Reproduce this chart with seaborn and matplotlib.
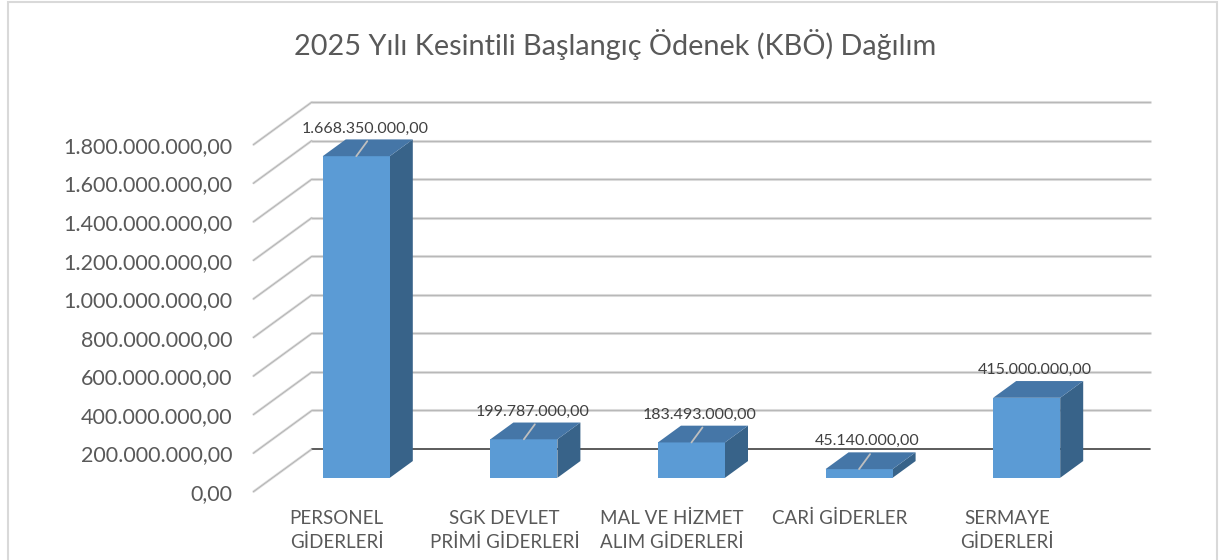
import numpy as np
import pandas as pd
import matplotlib
matplotlib.use("Agg")
import matplotlib.pyplot as plt
import matplotlib.transforms as mtransforms
from matplotlib.patches import Polygon, Rectangle
import seaborn as sns

# ---- data ----
categories = ["PERSONEL\nGİDERLERİ", "SGK DEVLET\nPRİMİ GİDERLERİ", "MAL VE HİZMET\nALIM GİDERLERİ",
              "CARİ GİDERLER", "SERMAYE\nGİDERLERİ"]
values = [1668350000.00, 199787000.00, 183493000.00, 45140000.00, 415000000.00]
yticks = [0, 200e6, 400e6, 600e6, 800e6, 1000e6, 1200e6, 1400e6, 1600e6, 1800e6]
leader = [True, True, True, True, False]
title = "2025 Yılı Kesintili Başlangıç Ödenek (KBÖ) Dağılım"

def tr(v):
    s = f"{v:,.2f}"
    return s.replace(",", "#").replace(".", ",").replace("#", ".")

sns.set_theme(style="white")
plt.rcParams['font.family'] = ['Lato', 'DejaVu Sans']
TXT = '#595959'

W, H = 1219, 560
fig = plt.figure(figsize=(W / 100, H / 100), dpi=100)
# front plane of the 3D box (pixels): x 253..1091, y(top-origin) 492 (0) .. 145 (1.8e9)
ax = fig.add_axes([253 / W, (H - 492) / H, 838 / W, (492 - 145) / H])
ax.patch.set_alpha(0)

DX, DY = 59, 43  # full depth offset in pixels
D0, D1 = 0.33, 0.72  # bar depth range

df = pd.DataFrame({"cat": categories, "val": values})
sns.barplot(data=df, x="cat", y="val", ax=ax, color="#5B9BD5", saturation=1,
            width=0.4, zorder=5)
ax.set_xlim(-0.5, len(categories) - 0.5)
ax.set_ylim(0, yticks[-1])

off = mtransforms.ScaledTranslation(D0 * DX / 100, D0 * DY / 100, fig.dpi_scale_trans)
for p in ax.patches:
    p.set_transform(ax.transData + off)
    p.set_clip_on(False)
    p.set_edgecolor('none')

def P(x, y, d, ex=0, ey=0):
    disp = ax.transData.transform((x, y)) + np.array([d * DX + ex, d * DY + ey])
    return ax.transData.inverted().transform(disp)

x0, x1 = -0.5, len(categories) - 0.5
# side wall diagonals and back wall gridlines
for t in yticks:
    a, b = P(x0, t, 0), P(x0, t, 1)
    ax.plot([a[0], b[0]], [a[1], b[1]], color='#D9D9D9', lw=1.8, zorder=1, clip_on=False, solid_capstyle='butt')
    ax.plot([a[0], b[0]], [a[1], b[1]], color='#B0B0B0', lw=0.6, zorder=1.1, clip_on=False)
    c = P(x1, t, 1)
    if t == 0:
        ax.plot([b[0], c[0]], [b[1], c[1]], color='#404040', lw=1.2, zorder=1, clip_on=False)
    else:
        ax.plot([b[0], c[0]], [b[1], c[1]], color='#DEDEDE', lw=2.2, zorder=1, clip_on=False)
        ax.plot([b[0], c[0]], [b[1], c[1]], color='#B8B8B8', lw=0.8, zorder=1.1, clip_on=False)

# 3D faces
hw = 0.2
for i, v in enumerate(values):
    xa, xb = i - hw, i + hw
    top = [P(xa, v, D0), P(xb, v, D0), P(xb, v, D1), P(xa, v, D1)]
    side = [P(xb, 0, D0), P(xb, v, D0), P(xb, v, D1), P(xb, 0, D1)]
    ax.add_patch(Polygon(side, closed=True, facecolor='#386389', edgecolor='none', zorder=4, clip_on=False))
    ax.add_patch(Polygon(top, closed=True, facecolor='#4576A7', edgecolor='none', zorder=6, clip_on=False))
    if leader[i]:
        s, e = P(i, v, D0), P(i, v, D0, 11, 15)
        ax.plot([s[0], e[0]], [s[1], e[1]], color='#BFBFBF', lw=1.3, zorder=7, clip_on=False)
    lp = P(i, v, D1, -DX * (D1 - D0) / 2 - 3, 11)
    ax.text(lp[0], lp[1], tr(v), ha='center', va='center', fontsize=11.5, color='#404040', zorder=8)

ax.set_yticks(yticks)
ax.set_yticklabels([tr(t) for t in yticks], fontsize=15.5, color=TXT)
ax.set_xticks(range(len(categories)))
ax.set_xticklabels(categories, fontsize=13.5, color=TXT, linespacing=1.45)
ax.tick_params(axis='y', length=0, pad=15)
ax.tick_params(axis='x', length=0, pad=13)
ax.set_xlabel("")
ax.set_ylabel("")
for s in ax.spines.values():
    s.set_visible(False)
ax.grid(False)

fig.text(615 / W, 1 - 45 / H, title, ha='center', va='center', fontsize=20.8, color=TXT)
fig.patches.append(Rectangle((8 / W, -0.02), (1217 - 8) / W, 1.0 - 2 / H + 0.02, transform=fig.transFigure,
                             fill=False, edgecolor='#D9D9D9', lw=1.5, figure=fig))

fig.savefig("out.png", dpi=100)
